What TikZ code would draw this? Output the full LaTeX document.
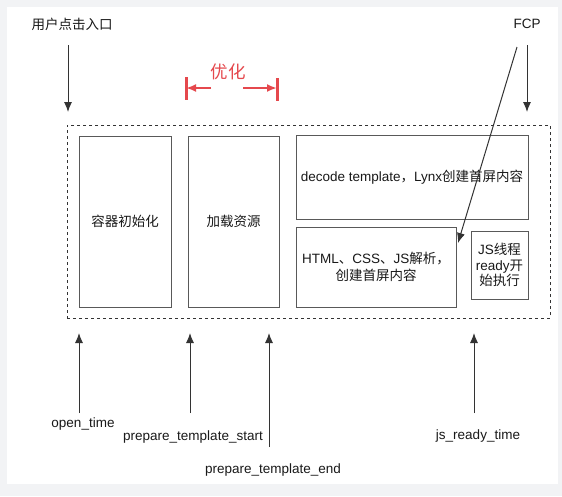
\documentclass[tikz,border=0pt]{standalone}
\usepackage{fontspec}
\setmainfont{Liberation Sans}
\newfontfamily\zhfont{Noto Sans CJK SC}
\usepackage{tikz}
\usetikzlibrary{arrows.meta}
\usepackage{color}
\definecolor{optred}{HTML}{E5484D}
\definecolor{pagegray}{HTML}{F2F3F5}

\begin{document}
\begin{tikzpicture}[x=1pt, y=-1pt, font=\fontsize{13.5}{16}\selectfont, text=black!90,
  stage/.style={draw=black!65, line width=1pt, align=center, inner sep=2pt},
  tick/.style={-{Latex[length=10pt,width=8pt]}, color=black!80, line width=1pt}]
\useasboundingbox (0,0) rectangle (562,496);
\fill[pagegray] (0,0) rectangle (562,496);
\fill[white] (7,7) rectangle (558,484);
% the page run
\node[draw=black!80, dashed, line width=1pt, minimum width=483pt, minimum height=193pt] (run) at (308.5,221.5) {};
\node[stage, minimum width=92pt, minimum height=171pt] (init) at (125,221.5) {\zhfont 容器初始化};
\node[stage, minimum width=91pt, minimum height=171pt] (load) at (233.5,221.5) {\zhfont 加载资源};
\node[stage, minimum width=232pt, minimum height=84pt] (decode) at (412,177) {decode template{\zhfont ，}Lynx{\zhfont 创建首屏内容}};
\node[stage, minimum width=160pt, minimum height=80pt, font=\fontsize{13.5}{17}\selectfont] (parse) at (376,267) {HTML{\zhfont 、}CSS{\zhfont 、}JS{\zhfont 解析，}\\{\zhfont 创建首屏内容}};
\node[stage, minimum width=57pt, minimum height=68pt, font=\fontsize{13.5}{15.5}\selectfont] (jsready) at (499.5,265) {JS{\zhfont 线程}\\ready{\zhfont 开}\\{\zhfont 始执行}};
% top marks
\node (click) at (72,24) {\zhfont 用户点击入口};
\node (fcp) at (527,24) {FCP};
\coordinate (clicktop) at (68,45);
\coordinate (clickend) at (68,112);
\coordinate (fcptop) at (527,45);
\coordinate (fcpend) at (527,112);
\coordinate (fcpfrom) at (517,47);
\coordinate (parsein) at (458,243);
\path[tick]
(clicktop) edge (clickend)
(fcptop) edge (fcpend)
(fcpfrom) edge (parsein);
% optimisation span
\node[text=optred, font=\fontsize{17.5}{20}\selectfont\zhfont] (opt) at (228,72) {优化};
\coordinate (optl) at (186,88);
\coordinate (optr) at (277,88);
\draw[optred, line width=3pt] (186,77) -- (186,100) (277,78) -- (277,101);
\path[-{Latex[length=10pt,width=8pt]}, color=optred, line width=2pt]
(211,88) edge (optl)
(243,88) edge (optr);
% timing points
\node (open) at (83,424) {open\_time};
\node (pstart) at (193,437) {prepare\_template\_start};
\node (pend) at (273,470) {prepare\_template\_end};
\node (jstime) at (478,436) {js\_ready\_time};
\path[tick]
(79,413) edge (79,333)
(190,413) edge (190,333)
(269,447) edge (269,333)
(474,413) edge (474,333);
\end{tikzpicture}
\end{document}
